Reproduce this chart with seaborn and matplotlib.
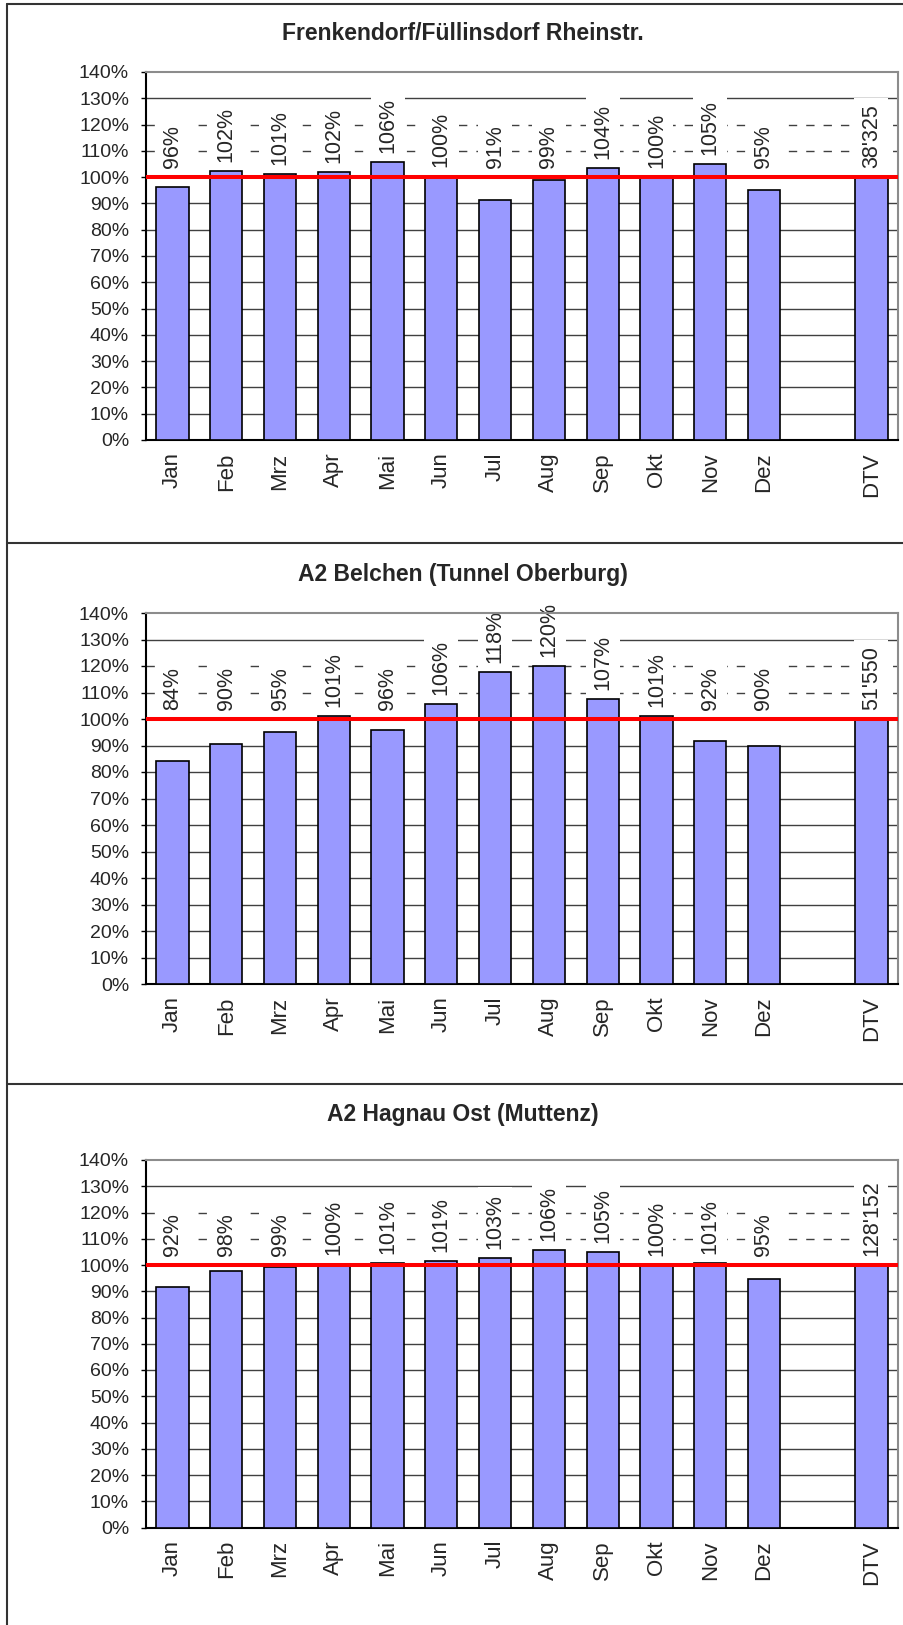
import matplotlib
matplotlib.use("Agg")
import numpy as np
import pandas as pd
import matplotlib.pyplot as plt
import seaborn as sns
from matplotlib.lines import Line2D

# --- Daten ---
months = ["Jan", "Feb", "Mrz", "Apr", "Mai", "Jun", "Jul", "Aug", "Sep", "Okt", "Nov", "Dez"]
slots = months + [" ", "DTV"]

titles = [
    "Frenkendorf/Füllinsdorf Rheinstr.",
    "A2 Belchen (Tunnel Oberburg)",
    "A2 Hagnau Ost (Muttenz)",
]

frenkendorf = [96.1, 102.4, 101.3, 101.9, 105.9, 100.4, 91.4, 98.8, 103.5, 99.9, 104.9, 95.0]
belchen = [84.0, 90.4, 95.1, 101.1, 95.9, 105.6, 117.6, 119.9, 107.4, 101.1, 91.6, 89.9]
hagnau = [91.7, 97.6, 99.1, 100.4, 100.6, 101.4, 102.8, 105.8, 105.1, 99.8, 100.6, 94.8]
series = [frenkendorf, belchen, hagnau]

dtv_value = 100.0
dtv_labels = ["38'325", "51'550", "128'152"]
ref_level = 100
dashed_levels = [110, 120]

# --- Layout (Pixel) ---
W, H = 904, 1625
ax_left, ax_right = 145.7, 898.3
panel_px = [  # (oben 140%, unten 0%, Titel)
    (72, 440, 34),
    (613, 984, 574),
    (1160, 1527.5, 1114),
]
border_rows = [4, 543, 1084]

bar_color = "#9999ff"
grid_color = "#404040"

sns.set_style("white")
plt.rcParams["font.family"] = ["Liberation Sans", "DejaVu Sans"]
plt.rcParams["lines.scale_dashes"] = False

fig = plt.figure(figsize=(W / 100, H / 100), dpi=100)
fig.patch.set_facecolor("white")

for title, values, dtv_label, (top, bot, ty) in zip(titles, series, dtv_labels, panel_px):
    ax = fig.add_axes([ax_left / W, 1 - bot / H, (ax_right - ax_left) / W, (bot - top) / H])

    df = pd.DataFrame({"Monat": months + ["DTV"], "Anteil": values + [dtv_value]})
    sns.barplot(data=df, x="Monat", y="Anteil", order=slots, width=0.6,
                color=bar_color, saturation=1, edgecolor="black", linewidth=1.2,
                ax=ax, zorder=3)

    # Gitternetz
    for t in range(10, 140, 10):
        ls = (0, (6, 6.5)) if t in dashed_levels else "-"
        ax.axhline(t, color=grid_color, lw=1.0, ls=ls, zorder=1)

    # 100%-Linie
    ax.axhline(ref_level, color="#ff0000", lw=2.9, zorder=4)

    # Datenbeschriftungen
    for cat, v in zip(df["Monat"], df["Anteil"]):
        txt = dtv_label if cat == "DTV" else f"{v:.0f}%"
        ax.annotate(txt, (slots.index(cat), max(v, ref_level)), xytext=(0, 6.5),
                    textcoords="offset points", rotation=90, ha="center", va="bottom",
                    fontsize=15.5, zorder=2.5,
                    bbox=dict(boxstyle="square,pad=0.3", fc="white", ec="none"))

    ax.set_xlim(-0.5, len(slots) - 0.5)
    ax.set_ylim(0, 140)
    ax.set_yticks(range(0, 141, 10))
    ax.set_yticklabels([f"{t}%" for t in range(0, 141, 10)], fontsize=14)
    ax.set_xticks(range(len(slots)))
    ax.set_xticklabels(slots, rotation=90, fontsize=16)
    ax.set_xticks(np.arange(-0.5, len(slots), 1), minor=True)
    ax.tick_params(axis="x", which="major", length=0, pad=9)
    ax.tick_params(axis="x", which="minor", length=3.5, width=1, color="black", direction="out")
    ax.tick_params(axis="y", which="major", length=3.5, width=1, color="black", direction="out", pad=8.5, left=True)
    ax.set_xlabel("")
    ax.set_ylabel("")

    for side in ["left", "bottom"]:
        ax.spines[side].set_color("black")
        ax.spines[side].set_linewidth(1.5)
    for side in ["top", "right"]:
        ax.spines[side].set_color("#8c8c8c")
        ax.spines[side].set_linewidth(1.5)

    fig.text(463 / W, 1 - ty / H, title, ha="center", va="center",
             fontsize=16.5, fontweight="bold")

# Rahmen um die Diagramme
for y in border_rows:
    fig.add_artist(Line2D([7 / W, 1], [1 - y / H, 1 - y / H], transform=fig.transFigure,
                          color="#333333", lw=1.5))
fig.add_artist(Line2D([7 / W, 7 / W], [1 - border_rows[0] / H, 0], transform=fig.transFigure,
                      color="#333333", lw=1.5))

fig.savefig("out.png", dpi=100)
plt.close(fig)
